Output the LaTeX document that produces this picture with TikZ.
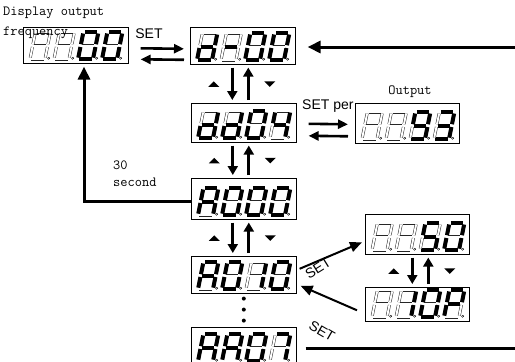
\documentclass[tikz,border=0pt]{standalone}
\usepackage{fontspec}
\usepackage{xstring}
\usetikzlibrary{arrows.meta,calc}
\newfontfamily\setfont{Liberation Sans}

\tikzset{
  dispbox/.style={draw, line width=0.6pt, fill=white, minimum width=105pt,
    minimum height=38pt, inner sep=0pt, anchor=north west},
  segon/.style={line width=4pt},
  segoff/.style={draw=black!85, line width=0.45pt, double=white, double distance=2pt},
  monotext/.style={font=\ttfamily\fontsize{14}{17}\selectfont, inner sep=0pt},
  setlbl/.style={font=\setfont\fontsize{14}{14}\selectfont, inner sep=0pt},
  mainarrow/.style={line width=3pt, -{Triangle[length=13pt,width=12pt]}},
  mainline/.style={line width=3pt},
  setarrow/.style={line width=2.6pt, -{Triangle[length=10pt,width=9pt]}},
  steparrow/.style={line width=3pt, -{Triangle[length=9pt,width=10pt]}},
  slantarrow/.style={line width=2pt, -{Triangle[length=12pt,width=10pt]}}
}

% one digit: box, place (0..3), lit segments
\newcommand\segdigit[3]{%
  \begin{scope}[shift={($(#1.south west)+({7+#2*24},-4.5)$)}, x=1pt, y=1pt, xslant=0.2]
    \foreach \n/\xa/\ya/\xb/\yb in {a/1.4/27/13.6/27, b/15/25.6/15/14.9, c/15/12.1/15/1.4,
        d/1.4/0/13.6/0, e/0/1.4/0/12.1, f/0/14.9/0/25.6, g/1.4/13.5/13.6/13.5} {
      \IfSubStr{#3}{\n}{\draw[segon] (\xa,\ya) -- (\xb,\yb);}{\draw[segoff] (\xa,\ya) -- (\xb,\yb);}
    }
    \draw[line width=0.4pt, fill=white] (18.5,0.8) circle (1.1pt);
  \end{scope}}
\newcommand\segdisplay[5]{%
  \segdigit{#1}{0}{#2}\segdigit{#1}{1}{#3}\segdigit{#1}{2}{#4}\segdigit{#1}{3}{#5}}
% pair of step arrows and the two small triangles
\newcommand\updown[3]{%
  \coordinate (mid) at ($(#1.south)!0.5!(#2.north)+(#3,0)$);
  \draw[steparrow] ($(#1.south -| mid)+(-8,3)$) -- ($(#2.north -| mid)+(-8,-3)$);
  \draw[steparrow] ($(#2.north -| mid)+(8,-3)$) -- ($(#1.south -| mid)+(8,3)$);
  \fill ($(mid)+(-32,3)$) -- ++(11,0) -- ++(-5.5,-5.5) -- cycle;
  \fill ($(mid)+(24,-2.5)$) -- ++(11,0) -- ++(-5.5,5.5) -- cycle;
}

\begin{document}
\begin{tikzpicture}[x=1pt, y=-1pt]
  \useasboundingbox (0,0) rectangle (515,362);

  % displays
  \node[dispbox, minimum height=36pt] (freq) at (23,27) {};
  \node[dispbox, minimum height=37pt] (dsel) at (190,27) {};
  \node[dispbox, minimum height=39pt] (hsel) at (191,103) {};
  \node[dispbox, minimum height=41pt] (asel) at (191,178) {};
  \node[dispbox, minimum height=37pt] (aone) at (191,256) {};
  \node[dispbox] (alast) at (191,327) {};
  \node[dispbox, minimum height=40pt, minimum width=104pt] (vhigh) at (365,214) {};
  \node[dispbox, minimum height=34pt, minimum width=104pt] (vlow) at (365,287) {};
  \node[setlbl, anchor=west] (setper) at (302,106) {SET per};
  \node[dispbox, minimum height=40pt, minimum width=104pt] (out) at (355,103) {};

  \segdisplay{freq}{}{}{abcdef}{abcdef}
  \segdisplay{dsel}{bcdeg}{g}{abcdef}{abcdef}
  \segdisplay{hsel}{bcdeg}{bcdeg}{abcdef}{bcfg}
  \segdisplay{asel}{abcefg}{abcdef}{abcdef}{abcdef}
  \segdisplay{aone}{abcefg}{abcdef}{bc}{abcdef}
  \segdisplay{alast}{abcefg}{abcefg}{abcdef}{abc}
  \segdisplay{vhigh}{}{}{acdfg}{abcdef}
  \segdisplay{vlow}{}{bc}{abcdef}{abefg}
  \segdisplay{out}{}{}{abcdfg}{abcdg}

  % texts
  \node[monotext, anchor=west] (disptxt) at (3,13) {Display output};
  \node[monotext, anchor=west] (freqtxt) at (3,33) {frequency};
  \node[monotext, anchor=north west, align=left] (waittxt) at (113,161) {30\\second};
  \node[monotext] (outtxt) at (410,92) {Output};
  \node[setlbl] (settop) at (149,34) {SET};
  \node[setlbl, rotate=32] (setup) at (318,268) {SET};
  \node[setlbl, rotate=-30] (setdown) at (322,331) {SET};

  % connectors
  \draw[setarrow] ($(freq.east)+(12,3)$) -- ($(dsel.west)+(-6,3)$);
  \draw[setarrow] ($(dsel.west)+(-6,14)$) -- ($(freq.east)+(12,14)$);
  \coordinate (rin) at (515,47);
  \draw[mainarrow] (rin) -- ($(dsel.east |- rin)+(12,0)$);
  \updown{dsel}{hsel}{-3}
  \updown{hsel}{asel}{-3}
  \updown{asel}{aone}{-3}
  \updown{vhigh}{vlow}{3}
  \draw[setarrow] ($(hsel.east)+(12,1)$) -- ($(out.west)+(-7,1)$);
  \draw[setarrow] ($(out.west)+(-7,13)$) -- ($(hsel.east)+(12,13)$);
  \draw[slantarrow] ($(aone.east)+(3,-6)$) -- ($(vhigh.west)+(-3,8)$);
  \draw[slantarrow] ($(vlow.west)+(-8,6)$) -- ($(aone.east)+(4,11)$);
  \coordinate (rout) at (515,348);
  \draw[mainline] ($(alast.east |- rout)+(9,0)$) -- (rout);
  \coordinate (corner) at (84,201);
  \draw[mainarrow] (asel.west |- corner) -- (corner) -- ($(corner |- freq.south)+(0,3)$);
  \foreach \dy in {0,11,22}
    \fill ($(aone.south)+(0,5+\dy)$) circle (2pt);
\end{tikzpicture}
\end{document}
